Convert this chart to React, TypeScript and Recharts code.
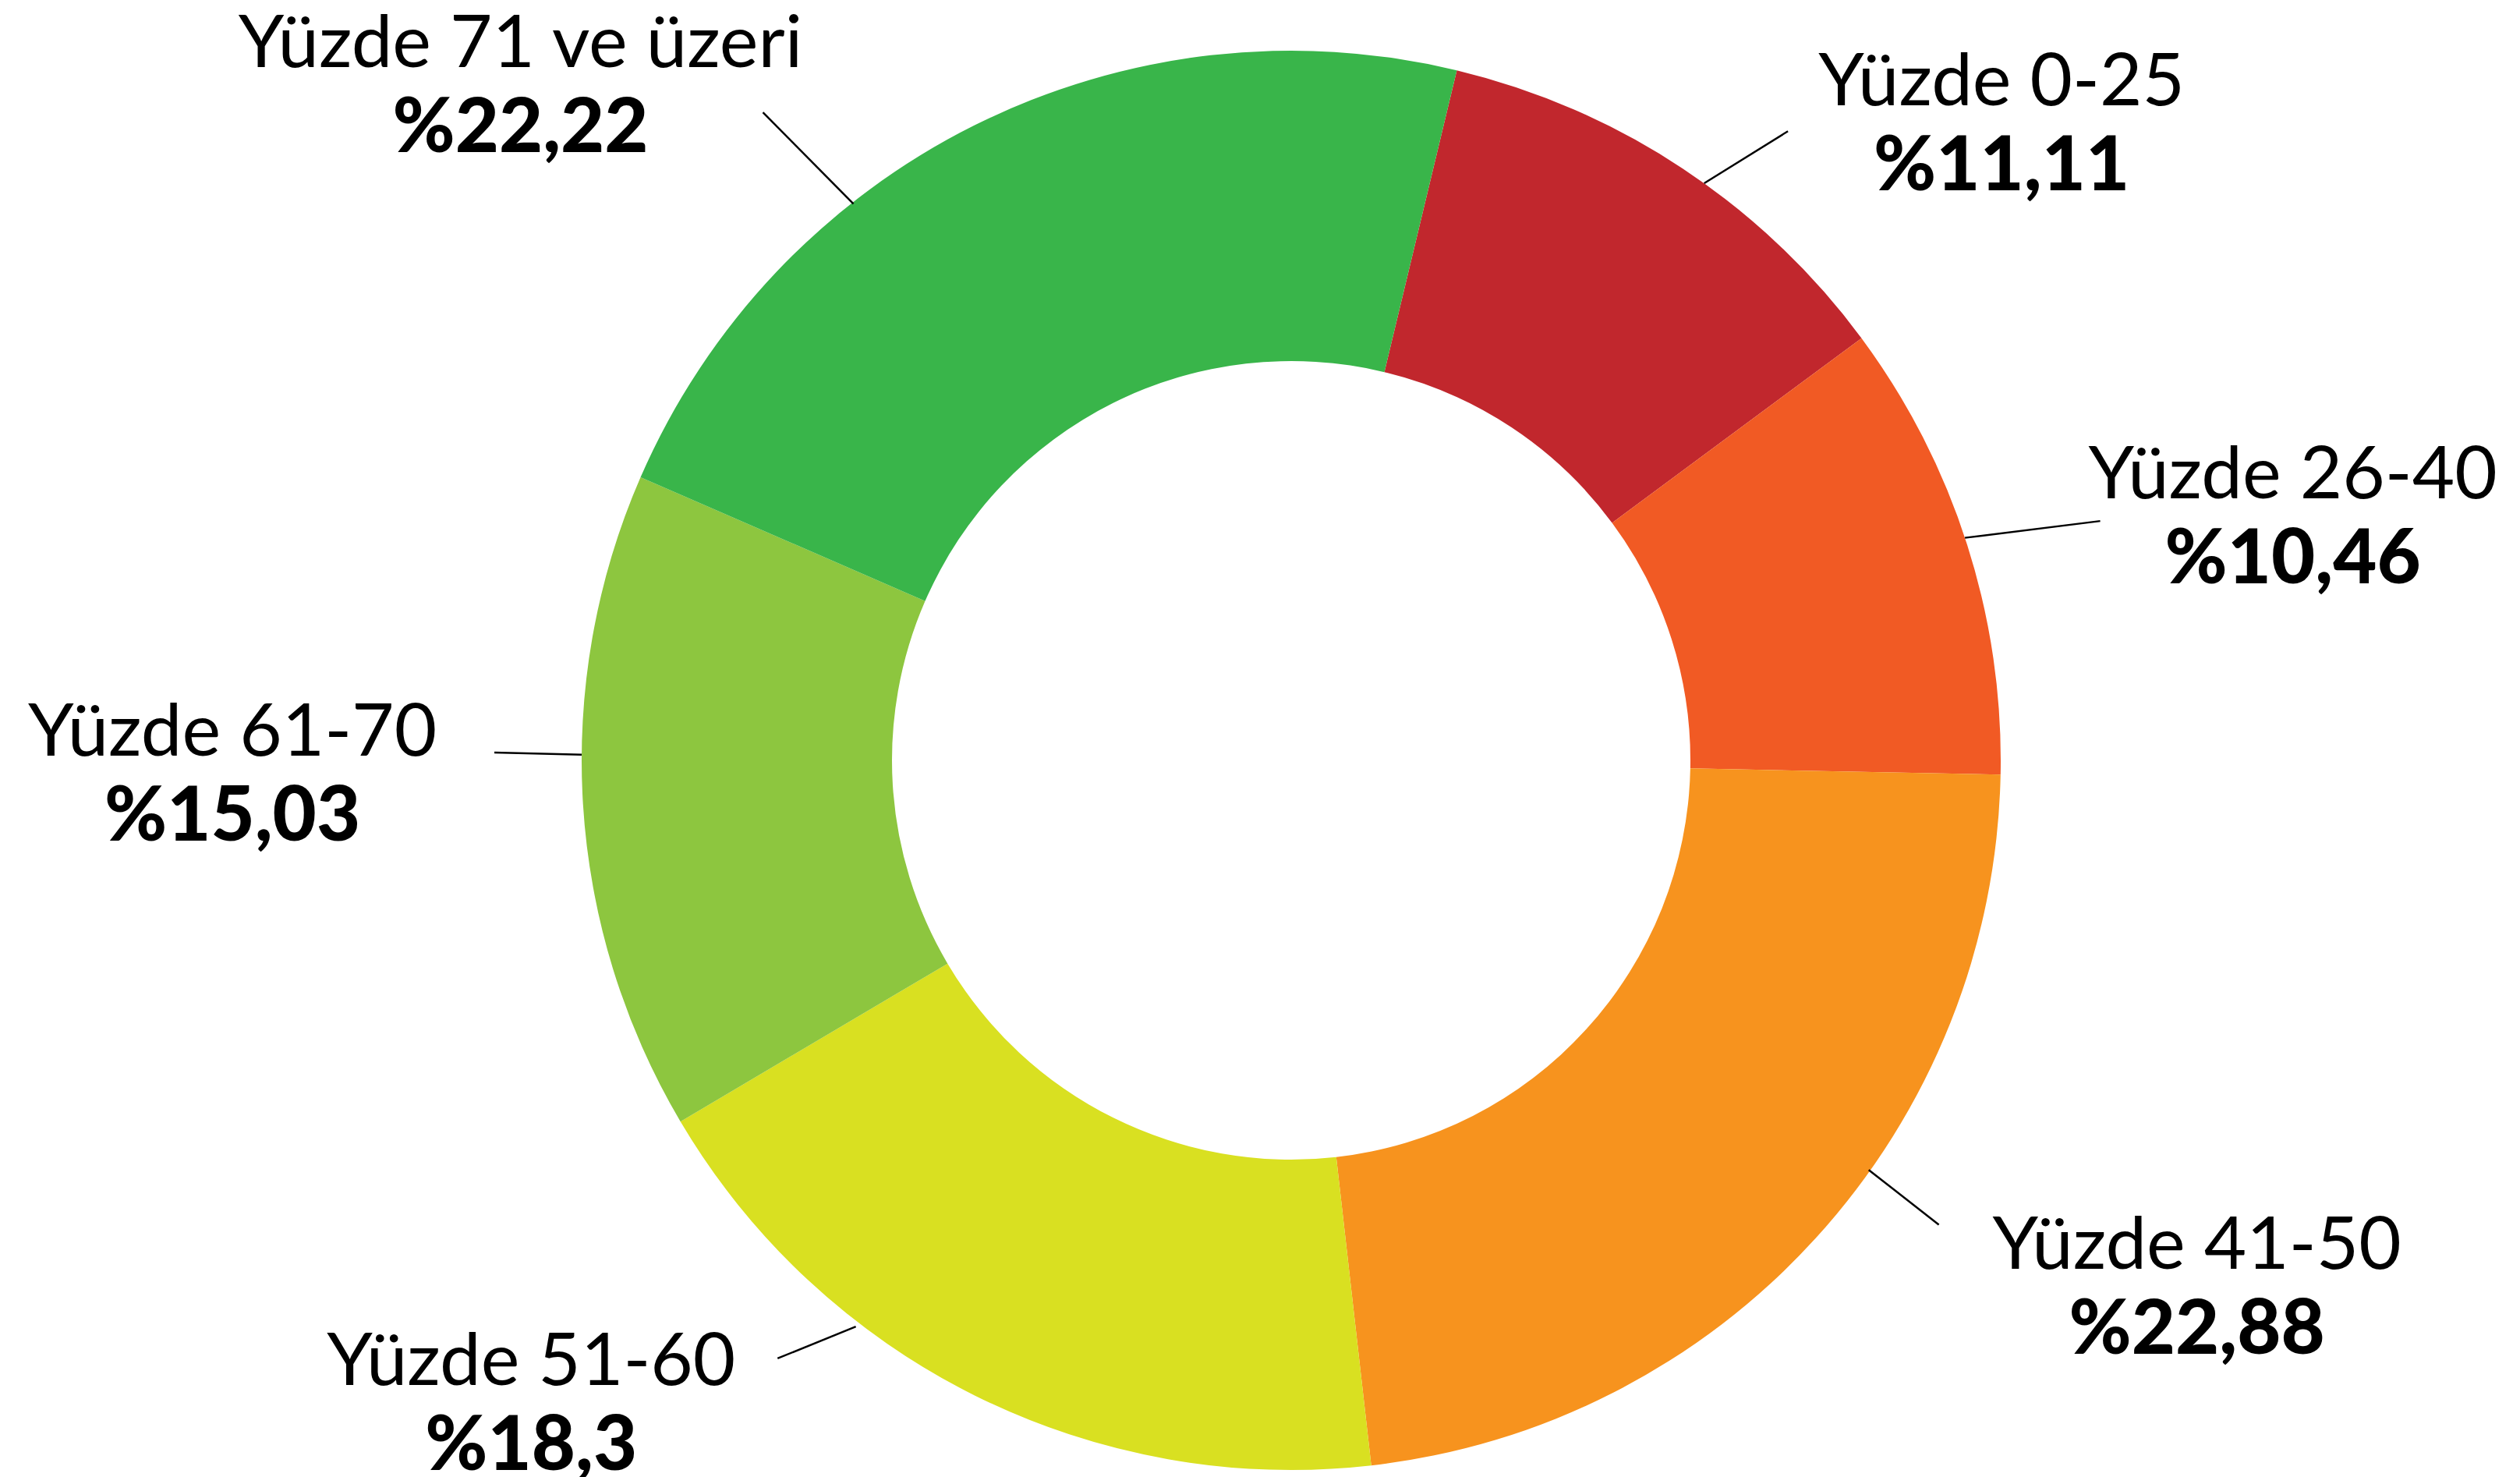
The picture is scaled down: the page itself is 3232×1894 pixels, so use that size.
import React from "react";
import { PieChart, Pie, Cell } from "recharts";

const categories = [
  "Yüzde 0-25",
  "Yüzde 26-40",
  "Yüzde 41-50",
  "Yüzde 51-60",
  "Yüzde 61-70",
  "Yüzde 71 ve üzeri",
];
const shares = [11.11, 10.46, 22.88, 18.3, 15.03, 22.22];
const colors = ["#C1272D", "#F15A24", "#F7931E", "#D9E021", "#8DC63F", "#39B54A"];

// label layout: leader line angle offsets (clockwise degrees from slice mid), end radius, text offset from line end
const labelLayout = [
  { a0: 2.1, a1: 4.8, r0: 0, r1: 118, dx: 274, dy: -33 },
  { a0: -0.6, a1: 1.2, r0: 0, r1: 172, dx: 247, dy: -29 },
  { a0: -7, a1: -6.7, r0: -2, r1: 112, dx: 331, dy: 57 },
  { a0: 11.1, a1: 14.2, r0: 6, r1: 101, dx: -316, dy: 34 },
  { a0: 4, a1: 4.1, r0: 0, r1: 112, dx: -336, dy: 4 },
  { a0: -11.7, a1: -12.7, r0: -2, r1: 162, dx: -311, dy: -58 },
];

const data = categories.map((name, i) => ({ name, value: shares[i] }));

const RAD = Math.PI / 180;

function renderLabel(props: any) {
  const { cx, cy, midAngle, outerRadius, index } = props;
  const L = labelLayout[index];
  const ang0 = midAngle - L.a0;
  const ang1 = midAngle - L.a1;
  const r0 = outerRadius + L.r0;
  const r1 = outerRadius + L.r1;
  const x0 = cx + r0 * Math.cos(-ang0 * RAD);
  const y0 = cy + r0 * Math.sin(-ang0 * RAD);
  const x1 = cx + r1 * Math.cos(-ang1 * RAD);
  const y1 = cy + r1 * Math.sin(-ang1 * RAD);
  const tx = x1 + L.dx;
  const ty = y1 + L.dy;
  const valueText = "%" + String(shares[index]).replace(".", ",");
  return (
    <g key={"lbl" + index}>
      <line x1={x0} y1={y0} x2={x1} y2={y1} stroke="#000" strokeWidth={2.5} />
      <text
        x={tx}
        y={ty}
        textAnchor="middle"
        fontFamily="Lato, 'Noto Sans', sans-serif"
        fontSize={94}
        fontWeight={400}
        fill="#000"
      >
        {categories[index]}
      </text>
      <text
        x={tx}
        y={ty + 109}
        textAnchor="middle"
        fontFamily="Lato, 'Noto Sans', sans-serif"
        fontSize={97}
        fontWeight={900}
        fill="#000"
      >
        {valueText}
      </text>
    </g>
  );
}

export default function App() {
  return (
    <div
      style={{
        position: "absolute",
        left: 0,
        top: 0,
        width: 3232,
        height: 1894,
        background: "#fff",
      }}
    >
      <PieChart width={3232} height={1894}>
        <Pie
          data={data}
          dataKey="value"
          nameKey="name"
          cx={1651}
          cy={970}
          innerRadius={512}
          outerRadius={910}
          startAngle={76.5}
          endAngle={-283.5}
          stroke="none"
          label={renderLabel}
          labelLine={false}
          isAnimationActive={false}
        >
          {data.map((d, i) => (
            <Cell key={d.name} fill={colors[i]} />
          ))}
        </Pie>
      </PieChart>
    </div>
  );
}
